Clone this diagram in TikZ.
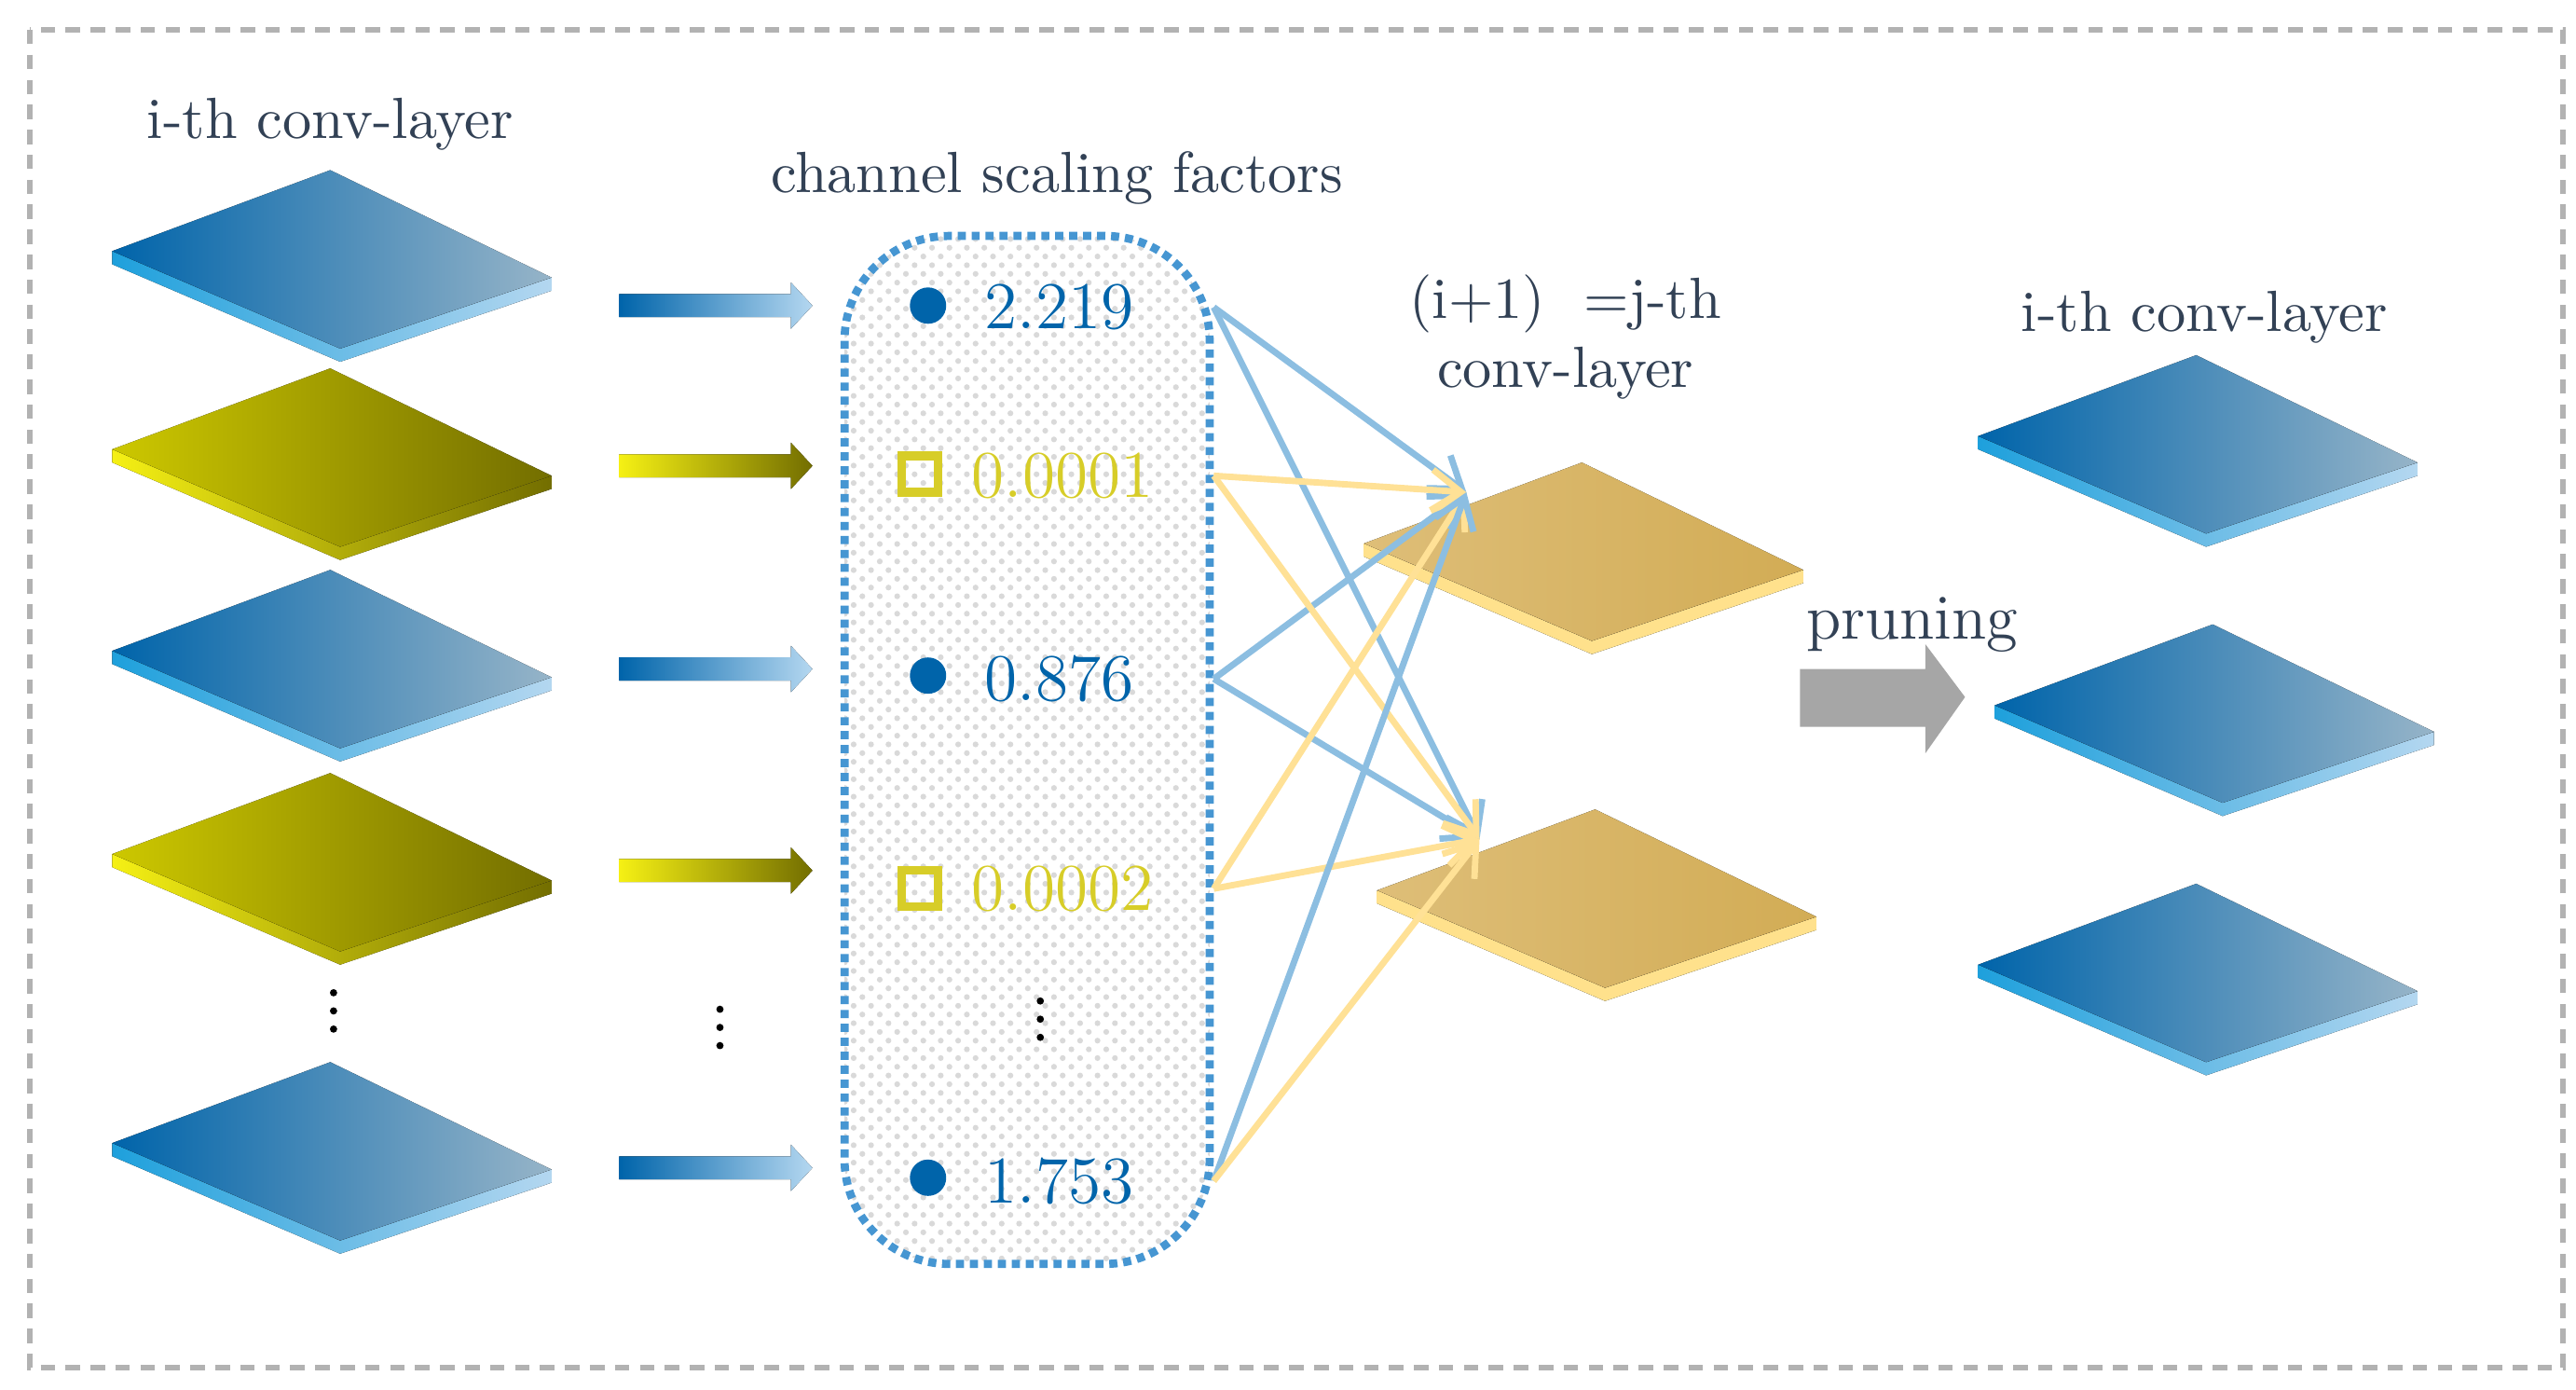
\documentclass[tikz,border=0pt]{standalone}
\usepackage{tikz}
\usetikzlibrary{arrows.meta,patterns,positioning}
\definecolor{plblue}{RGB}{0,100,170}
\definecolor{plbluelt}{RGB}{150,180,200}
\definecolor{edblue}{RGB}{30,160,220}
\definecolor{edbluelt}{RGB}{180,215,240}
\definecolor{plyel}{RGB}{205,200,0}
\definecolor{plyeldk}{RGB}{115,110,0}
\definecolor{edyel}{RGB}{245,240,20}
\definecolor{plgold}{RGB}{222,190,120}
\definecolor{plgolddk}{RGB}{210,172,85}
\definecolor{edgold}{RGB}{255,225,140}
\definecolor{lnblue}{RGB}{140,190,225}
\definecolor{lnyel}{RGB}{255,225,150}
\definecolor{txtdk}{RGB}{50,65,85}
\definecolor{valyel}{RGB}{215,205,40}
\definecolor{boxblue}{RGB}{70,150,210}
\tikzset{
    title/.style={font=\fontsize{10}{12}\selectfont,text=txtdk},
    value/.style={font=\fontsize{11.5}{13}\selectfont,anchor=west},
    link/.style={line width=1.1pt,-{Straight Barb[length=5pt,width=7pt]}},
}
% plate: name, x, y, top colours (left,right), edge colours (left,right)
\newcommand{\convplate}[7]{%
  \begin{scope}[shift={(#2,#3)}]
    \fill[left color=#6,right color=#7] (-132,-6) -- (6,53) -- (134,10) -- (134,18) -- (6,61) -- (-132,2) -- cycle;
    \fill[left color=#4,right color=#5] (0,-55) -- (-132,-6) -- (6,53) -- (134,10) -- cycle;
    \coordinate (#1) at (0,0);
    \coordinate (#1-in) at (-70,-37);
  \end{scope}}
% gradient arrow: x, y, left colour, right colour
\newcommand{\gradarrow}[4]{%
  \fill[left color=#3,right color=#4] (#1,#2-7) -- (#1+104,#2-7) -- (#1+104,#2-14) -- (#1+117,#2) -- (#1+104,#2+14) -- (#1+104,#2+7) -- (#1,#2+7) -- cycle;}
\begin{document}
\begin{tikzpicture}[x=0.01cm,y=-0.01cm]
    \useasboundingbox (0,0) rectangle (1560,841);
    \draw[gray!60,line width=0.9pt,dash pattern=on 2.5pt off 1.8pt] (18,18) rectangle (1552,828);

    % Input layer
    \node[title] (ltitle) at (200,75) {i-th conv-layer};
    \convplate{l1}{200}{158}{plblue}{plbluelt}{edblue}{edbluelt}
    \convplate{l2}{200}{278}{plyel}{plyeldk}{edyel}{plyeldk}
    \convplate{l3}{200}{400}{plblue}{plbluelt}{edblue}{edbluelt}
    \convplate{l4}{200}{523}{plyel}{plyeldk}{edyel}{plyeldk}
    \convplate{l5}{200}{698}{plblue}{plbluelt}{edblue}{edbluelt}

    % Arrows to factors
    \gradarrow{375}{185}{plblue}{edbluelt}
    \gradarrow{375}{282}{edyel}{plyeldk}
    \gradarrow{375}{405}{plblue}{edbluelt}
    \gradarrow{375}{527}{edyel}{plyeldk}
    \gradarrow{375}{707}{plblue}{edbluelt}

    % Scaling factors
    \node[title] (stitle) at (640,108) {channel scaling factors};
    \node[draw=boxblue,densely dotted,line width=1.4pt,rounded corners=18pt,pattern=crosshatch dots,pattern color=gray!30,
          minimum width=2.21cm,minimum height=6.22cm] (box) at (622,454) {};
    \fill[plblue] (562,185) circle (11);
    \draw[valyel,line width=1.5pt] (546,276) rectangle (568,298);
    \fill[plblue] (562,409) circle (11);
    \draw[valyel,line width=1.5pt] (546,527) rectangle (568,549);
    \fill[plblue] (562,713) circle (11);
    \node[value,text=plblue] (f1) at (584,186) {2.219};
    \node[value,text=valyel] (f2) at (576,288) {0.0001};
    \node[value,text=plblue] (f3) at (584,411) {0.876};
    \node[value,text=valyel] (f4) at (576,538) {0.0002};
    \node[value,text=plblue] (f5) at (584,715) {1.753};
    \foreach \x/\y in {202/612,436/622,630/617}
        \foreach \d in {-11,0,11} \fill (\x,\y+\d) circle (2.2);

    % Next layer
    \node[title,align=center] (ntitle) at (948,204) {(i+1)\ \ =j-th\\conv-layer};
    \convplate{na}{958}{335}{plgold}{plgolddk}{edgold}{edgold}
    \convplate{nb}{966}{545}{plgold}{plgolddk}{edgold}{edgold}

    \foreach \f in {1,3} {
        \draw[link,lnblue] (f\f.east -| box.east) -- (na-in);
        \draw[link,lnblue] (f\f.east -| box.east) -- (nb-in);
    }
    \foreach \f in {2,4} {
        \draw[link,lnyel] (f\f.east -| box.east) -- (na-in);
        \draw[link,lnyel] (f\f.east -| box.east) -- (nb-in);
    }
    \draw[link,lnblue] (f5.east -| box.east) -- (na-in);
    \draw[link,lnyel] (f5.east -| box.east) -- (nb-in);

    % Pruning
    \node[title,font=\fontsize{11}{13}\selectfont] (plabel) at (1158,378) {pruning};
    \fill[gray!70] (1090,405) -- (1166,405) -- (1166,390) -- (1190,422) -- (1166,456) -- (1166,440) -- (1090,440) -- cycle;

    % Pruned layer
    \node[title] (rtitle) at (1335,192) {i-th conv-layer};
    \convplate{r1}{1330}{270}{plblue}{plbluelt}{edblue}{edbluelt}
    \convplate{r2}{1340}{433}{plblue}{plbluelt}{edblue}{edbluelt}
    \convplate{r3}{1330}{590}{plblue}{plbluelt}{edblue}{edbluelt}
\end{tikzpicture}
\end{document}
